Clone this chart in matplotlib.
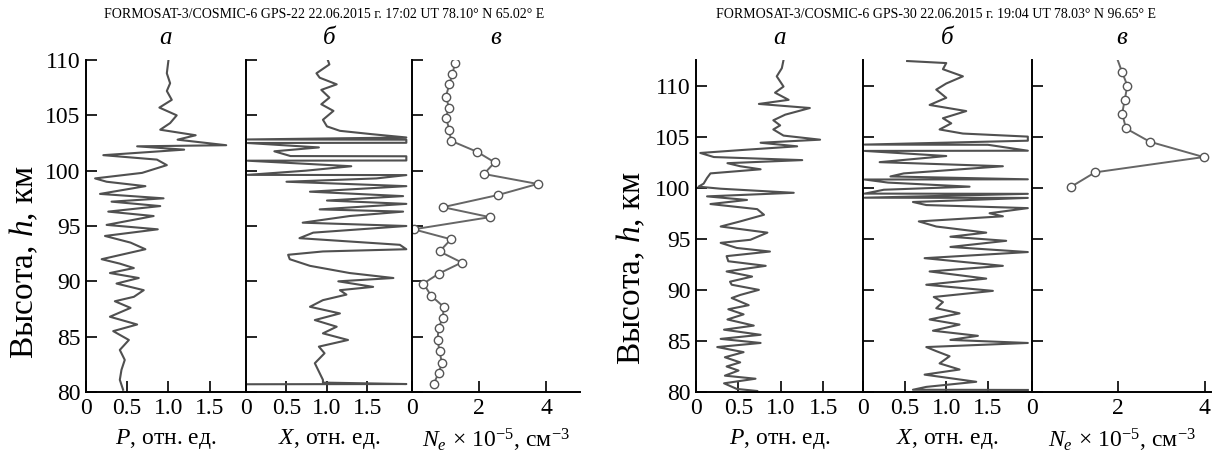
import matplotlib
matplotlib.use("Agg")
import matplotlib.pyplot as plt
import numpy as np

plt.rcParams['font.family'] = ['Liberation Serif', 'DejaVu Serif']
plt.rcParams['mathtext.fontset'] = 'custom'
plt.rcParams['mathtext.rm'] = 'Liberation Serif'
plt.rcParams['mathtext.it'] = 'Liberation Serif:italic'

W, H = 1213, 458

# ---------------- text ----------------
title_left = "FORMOSAT-3/COSMIC-6 GPS-22 22.06.2015 г. 17:02 UT 78.10° N 65.02° E"
title_right = "FORMOSAT-3/COSMIC-6 GPS-30 22.06.2015 г. 19:04 UT 78.03° N 96.65° E"
panel_letters = ["а", "б", "в"]
xlabels = ["$P$, отн. ед.", "$X$, отн. ед.", "$N_e\\,\\times\\,10^{-5}$, см$^{-3}$"]
ylabel = "Высота, $h$, км"

# ---------------- data: left group (GPS-22) ----------------
L_P_h = [80.2, 81.1, 82.0, 82.9, 83.8, 84.7, 85.5, 86.1, 86.8, 87.6, 88.2, 88.6, 89.2, 89.8,
         90.3, 90.75, 91.2, 91.6, 92.0, 92.9, 93.5, 94.1, 94.7, 95.1, 95.9, 96.3, 96.8, 97.2,
         97.5, 97.9, 98.6, 99.0, 99.3, 99.8, 100.5, 101.0, 101.4, 101.9, 102.2, 102.3, 102.8,
         103.2, 103.7, 104.3, 105.0, 105.7, 106.4, 107.2, 107.9, 108.8, 110.0]
L_P_v = [0.45, 0.41, 0.43, 0.47, 0.41, 0.52, 0.33, 0.62, 0.29, 0.54, 0.35, 0.58, 0.70, 0.37,
         0.64, 0.29, 0.58, 0.41, 0.19, 0.72, 0.54, 0.23, 0.87, 0.25, 0.82, 0.27, 0.90, 0.31,
         0.94, 0.17, 0.72, 0.25, 0.11, 0.68, 0.98, 0.86, 0.21, 1.19, 0.62, 1.70, 1.11,
         1.33, 0.90, 1.02, 1.10, 0.89, 1.04, 0.98, 1.02, 0.98, 1.00]

L_X_h = [80.70, 80.72, 80.85, 81.1, 81.7, 82.6, 83.5, 84.1, 84.7, 85.3, 85.9, 86.5, 87.1, 87.7,
         88.3, 88.8, 89.2, 89.5, 90.0, 90.3, 90.75, 91.4, 92.0, 92.4, 92.7, 92.9, 93.3, 93.9,
         94.4, 95.0, 95.3, 95.9, 96.3, 96.5, 97.0, 97.3, 97.7, 98.1, 98.6, 99.0, 99.3, 99.6,
         99.62, 100.0, 100.4, 100.9, 100.92, 101.3, 101.32, 101.75, 102.1, 102.5, 102.52,
         102.8, 102.82, 103.0, 103.3, 103.6, 104.0, 104.6, 105.4, 106.0, 106.6, 107.3, 107.8,
         108.4, 108.8, 109.6, 110.0]
L_X_v = [0.02, 1.98, 0.95, 0.95, 0.91, 0.85, 0.97, 0.90, 1.26, 0.95, 1.12, 0.85, 1.16, 0.79,
         0.95, 1.24, 1.16, 1.57, 1.14, 1.82, 1.28, 0.79, 0.54, 0.52, 0.95, 1.98, 1.90, 0.66,
         0.83, 1.98, 0.70, 1.28, 1.94, 0.91, 1.98, 1.00, 1.94, 0.79, 1.98, 0.50, 1.61, 1.98,
         0.02, 0.74, 1.30, 0.02, 1.98, 1.98, 0.55, 0.35, 0.90, 0.02, 1.98,
         1.98, 0.02, 1.98, 1.55, 1.16, 1.00, 0.95, 1.08, 0.93, 1.03, 0.93, 1.12,
         0.91, 0.87, 1.03, 1.01]

L_N_h = [80.7, 81.7, 82.6, 83.7, 84.7, 85.8, 86.7, 87.7, 88.7, 89.8, 90.7, 91.7, 92.7, 93.8,
         94.7, 95.8, 96.7, 97.8, 98.8, 99.7, 100.75, 101.7, 102.7, 103.7, 104.8, 105.7, 106.7,
         107.8, 108.7, 109.7]
L_N_v = [0.64, 0.79, 0.89, 0.82, 0.76, 0.79, 0.92, 0.94, 0.57, 0.34, 0.80, 1.48, 0.82, 1.16,
         0.05, 2.32, 0.92, 2.56, 3.74, 2.14, 2.46, 1.94, 1.16, 1.11, 1.01, 1.10, 1.01,
         1.11, 1.20, 1.28]

# ---------------- data: right group (GPS-30) ----------------
R_P_h = [80.1, 80.3, 80.85, 81.3, 81.6, 82.1, 82.5, 82.9, 83.4, 83.9, 84.4, 84.8, 85.2, 85.6,
         86.1, 86.5, 87.1, 87.6, 88.1, 88.5, 89.2, 89.5, 90.0, 90.5, 90.8, 91.3, 91.8, 92.35,
         92.8, 93.3, 93.75, 94.1, 94.6, 94.9, 95.6, 96.2, 96.7, 97.35, 97.9, 98.4, 98.8, 99.15,
         99.5, 99.9, 100.1, 100.4, 100.95, 101.4, 101.8, 102.1, 102.4, 102.7, 103.0, 103.4,
         103.7, 104.05, 104.4, 104.7, 105.1, 105.7, 106.1, 106.6, 107.15, 107.8, 108.2, 108.6,
         109.3, 109.9, 110.9, 111.7, 112.5]
R_P_v = [0.72, 0.48, 0.33, 0.70, 0.34, 0.50, 0.36, 0.52, 0.34, 0.56, 0.25, 0.76, 0.29, 0.76,
         0.33, 0.68, 0.37, 0.56, 0.38, 0.62, 0.42, 0.52, 0.74, 0.42, 0.40, 0.66, 0.36, 0.82,
         0.38, 0.36, 0.87, 0.48, 0.29, 0.64, 0.84, 0.29, 0.52, 0.80, 0.72, 0.17, 0.60, 0.13,
         1.15, 0.29, 0.03, 0.09, 0.13, 0.17, 0.76, 0.52, 0.37, 1.25, 0.21, 0.05,
         0.56, 1.19, 0.76, 1.46, 1.03, 0.91, 0.99, 0.91, 1.05, 1.34, 0.74, 1.09,
         0.93, 1.03, 0.95, 1.01, 1.03]

R_X_h = [80.2, 80.22, 80.5, 81.0, 81.7, 82.2, 82.8, 83.5, 84.0, 84.4, 84.8, 85.1, 85.5, 86.0,
         86.6, 87.1, 87.7, 88.2, 88.8, 89.3, 89.9, 90.5, 91.1, 91.8, 92.35, 93.1, 93.7, 94.2,
         94.8, 95.2, 95.6, 96.2, 96.7, 97.2, 97.5, 98.0, 98.3, 98.6, 99.0, 99.02, 99.4, 99.42,
         99.8, 100.1, 100.5, 100.8, 100.82, 101.1, 101.4, 102.1, 102.5, 103.1, 103.6, 103.62,
         104.2, 104.22, 104.6, 104.8, 105.0, 105.3, 105.7, 106.3, 106.8, 107.5, 108.1, 108.8,
         109.6, 110.2, 110.9, 111.6, 112.2, 112.4]
R_X_v = [1.98, 0.60, 0.76, 1.36, 0.74, 1.16, 0.92, 1.04, 0.88, 0.76, 1.98, 1.05, 1.38, 0.84,
         1.16, 0.80, 1.16, 0.88, 0.96, 0.85, 1.56, 0.76, 1.48, 0.80, 1.68, 0.74, 1.98, 1.05,
         1.72, 1.05, 1.48, 0.88, 0.67, 1.68, 1.52, 1.98, 0.76, 0.60, 1.98, 0.02, 1.98, 0.02,
         0.25, 1.28, 0.30, 0.02, 1.98, 0.33, 0.49, 1.68, 0.20, 1.00, 0.02, 1.98,
         1.50, 0.02, 1.98, 1.98, 1.98, 1.20, 0.92, 1.06, 0.96, 1.24, 0.80, 1.00,
         0.88, 1.00, 1.20, 0.96, 1.00, 0.53]

R_N_h = [100.1, 101.5, 103.0, 104.5, 105.8, 107.25, 108.6, 110.0, 111.3, 113.5]
R_N_v = [0.91, 1.46, 3.98, 2.73, 2.18, 2.09, 2.15, 2.21, 2.09, 1.90]

# ---------------- layout ----------------
fig = plt.figure(figsize=(W / 100, H / 100), dpi=100)

def add_ax(x0, x1, y0, y1):
    return fig.add_axes([x0 / W, 1 - y1 / H, (x1 - x0) / W, (y1 - y0) / H])

LINE = '#505050'
FS = 17

def style(ax, xlim, ylim, xticks, xticklabels, yticks, show_y):
    ax.set_xlim(*xlim)
    ax.set_ylim(*ylim)
    for s in ['top', 'right']:
        ax.spines[s].set_visible(False)
    for s in ['left', 'bottom']:
        ax.spines[s].set_linewidth(1.4)
    ax.set_xticks(xticks)
    ax.set_xticklabels(xticklabels)
    ax.set_yticks(yticks)
    ax.tick_params(direction='in', length=8, width=1.2, labelsize=FS, pad=4)
    if not show_y:
        ax.tick_params(labelleft=False)

groups = [
    dict(x=[86, 246, 412, 580], xmax=[1.94, 2.05, 5.0], ylim=(80, 110),
         yticks=[80, 85, 90, 95, 100, 105, 110],
         P=(L_P_h, L_P_v), X=(L_X_h, L_X_v), N=(L_N_h, L_N_v), title=title_left,
         title_x=324, ylab_x=24, ylab_y=262, nticks=[0, 2, 4]),
    dict(x=[696, 863, 1032, 1211], xmax=[1.965, 2.03, 4.15], ylim=(80, 112.5),
         yticks=[80, 85, 90, 95, 100, 105, 110],
         P=(R_P_h, R_P_v), X=(R_X_h, R_X_v), N=(R_N_h, R_N_v), title=title_right,
         title_x=936, ylab_x=631, ylab_y=268, nticks=[0, 2, 4]),
]

for g in groups:
    xs = g['x']
    axs = [add_ax(xs[i], xs[i + 1], 60, 392) for i in range(3)]
    style(axs[0], (0, g['xmax'][0]), g['ylim'], [0, 0.5, 1.0, 1.5], ['0', '0.5', '1.0', '1.5'],
          g['yticks'], True)
    style(axs[1], (0, g['xmax'][1]), g['ylim'], [0, 0.5, 1.0, 1.5], ['0', '0.5', '1.0', '1.5'],
          g['yticks'], False)
    style(axs[2], (0, g['xmax'][2]), g['ylim'], g['nticks'], [str(t) for t in g['nticks']],
          g['yticks'], False)
    axs[0].plot(g['P'][1], g['P'][0], color=LINE, lw=1.5)
    axs[1].plot(g['X'][1], g['X'][0], color=LINE, lw=1.5)
    axs[2].plot(g['N'][1], g['N'][0], color='#666666', lw=1.4, marker='o', ms=6,
                mfc='white', mec='#555555', mew=1.0)
    for ax, letter, xl in zip(axs, panel_letters, xlabels):
        ax.text(0.5, 1 + 22 / 332, letter, transform=ax.transAxes, ha='center', va='center',
                fontsize=18, style='italic')
        ax.set_xlabel(xl, fontsize=FS, labelpad=6)
    fig.text(g['title_x'] / W, 1 - 15 / H, g['title'], ha='center', va='center',
             fontsize=10)
    fig.text(g['ylab_x'] / W, 1 - g['ylab_y'] / H, ylabel, rotation=90, ha='center',
             va='center', fontsize=24)

fig.savefig('out.png', dpi=100)
